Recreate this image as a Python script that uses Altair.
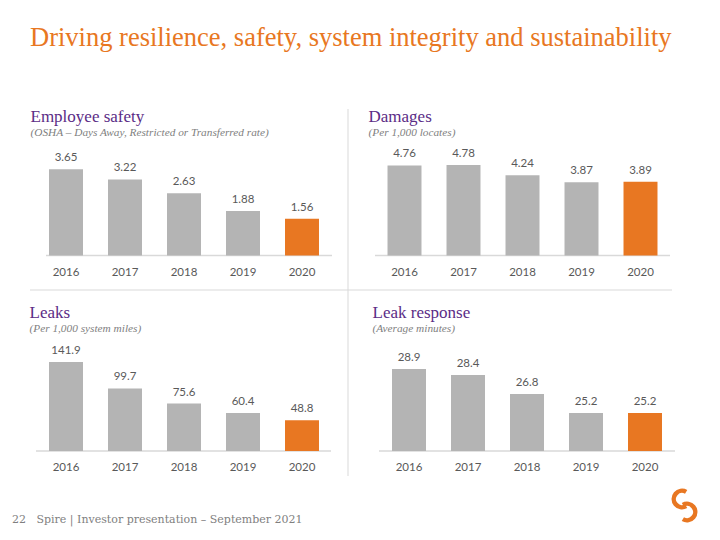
import altair as alt
import pandas as pd

# ---- data ----
years = ["2016", "2017", "2018", "2019", "2020"]
safety = [3.65, 3.22, 2.63, 1.88, 1.56]
damages = [4.76, 4.78, 4.24, 3.87, 3.89]
leaks = [141.9, 99.7, 75.6, 60.4, 48.8]
response = [28.9, 28.4, 26.8, 25.2, 25.2]

TITLE = "Driving resilience, safety, system integrity and sustainability"
headings = ["Employee safety", "Damages", "Leaks", "Leak response"]
subtitles = ["(OSHA \u2013 Days Away, Restricted or Transferred rate)",
             "(Per 1,000 locates)",
             "(Per 1,000 system miles)",
             "(Average minutes)"]
FOOTER = "22\u00a0\u00a0 Spire | Investor presentation \u2013 September 2021"

# ---- styles ----
ORANGE = "#E87722"
GRAY = "#B4B4B4"
PURPLE = "#5B2C86"
SUBGRAY = "#7F7F7F"
TXT = "#595959"
LINE = "#D9D9D9"
SERIF = "Liberation Serif"
SANS = "Lato"

one = pd.DataFrame({"k": [0]})


def panel(values, xrange, yrange, ydomain, fmt, label_y):
    df = pd.DataFrame({"year": years, "value": values})
    x = alt.X("year:N", axis=None,
              scale=alt.Scale(domain=years, range=xrange,
                              paddingInner=0.424, paddingOuter=0.212))
    y = alt.Y("value:Q", axis=None,
              scale=alt.Scale(domain=ydomain, range=yrange, nice=False,
                              zero=False, clamp=True))
    bars = alt.Chart().mark_bar().encode(
        x=x, y=y, y2=alt.datum(ydomain[0]),
        color=alt.condition(alt.datum.year == "2020",
                            alt.value(ORANGE), alt.value(GRAY)))
    vals = alt.Chart().mark_text(baseline="alphabetic", dy=-8, font=SANS,
                                 fontSize=11.5, color=TXT).encode(
        x=x, y=y, text=alt.Text("value:Q", format=fmt))
    yrs = alt.Chart().mark_text(baseline="alphabetic", font=SANS,
                                fontSize=11.5, color=TXT).encode(
        x=x, y=alt.value(label_y), text="year:N")
    return alt.layer(bars, vals, yrs, data=df)


def txt(s, x, y, size, color, font=SERIF, style="normal"):
    return alt.Chart(one).mark_text(text=s, align="left", baseline="alphabetic",
                                    font=font, fontSize=size, color=color,
                                    fontStyle=style).encode(
        x=alt.value(x), y=alt.value(y))


def hrule(x1, x2, y, w=1.0):
    return alt.Chart(one).mark_rule(color=LINE, strokeWidth=w).encode(
        x=alt.value(x1), x2=alt.value(x2), y=alt.value(y))


def vrule(x, y1, y2, w=1.0):
    return alt.Chart(one).mark_rule(color=LINE, strokeWidth=w).encode(
        x=alt.value(x), y=alt.value(y1), y2=alt.value(y2))


def arc(cx, cy, t1, t2):
    return alt.Chart(one).mark_arc(radius=10.5, radius2=6, theta=t1, theta2=t2,
                                   color=ORANGE).encode(
        x=alt.value(cx), y=alt.value(cy))


decor = [
    txt(TITLE, 22, 38, 26.5, ORANGE),
    txt(headings[0], 22.5, 114, 17, PURPLE),
    txt(subtitles[0], 22.5, 127.5, 11.3, SUBGRAY, style="italic"),
    txt(headings[1], 360.5, 114, 17, PURPLE),
    txt(subtitles[1], 360.5, 127.5, 11.3, SUBGRAY, style="italic"),
    txt(headings[2], 21.5, 310, 17, PURPLE),
    txt(subtitles[2], 21.5, 324, 11.3, SUBGRAY, style="italic"),
    txt(headings[3], 364.5, 310, 17, PURPLE),
    txt(subtitles[3], 364.5, 324, 11.3, SUBGRAY, style="italic"),
    txt(FOOTER, 4, 514.5, 11, SUBGRAY, font="DejaVu Serif"),
    vrule(340, 101, 468),
    hrule(22, 664, 282),
    hrule(38, 324, 247.5, 1.5),
    hrule(367, 662, 247.5, 1.5),
    hrule(28, 323, 443, 1.5),
    hrule(371, 667, 443, 1.5),
    arc(674, 491, 2.62, 6.81),
    arc(679, 504, 5.76, 9.95),
]

p1 = panel(safety, [28.5, 323.5], [247.5, 153.0], [0, 4], ".2f", 268.3)
p2 = panel(damages, [367, 662], [247.5, 152.85], [0, 5], ".2f", 268.3)
p3 = panel(leaks, [28.5, 323.5], [443, 348.8], [0, 150], ".1f", 463.3)
p4 = panel(response, [371.5, 666.5], [443, 347.9], [22, 30], ".1f", 463.3)

chart = alt.layer(*decor, p1, p2, p3, p4).resolve_scale(
    x="independent", y="independent"
).properties(
    width=704, height=524, padding=0,
    autosize=alt.AutoSizeParams(type="none"),
    background="white",
).configure_view(strokeWidth=0)

chart.save("out.html", embed_options={"renderer": "svg", "actions": False})
